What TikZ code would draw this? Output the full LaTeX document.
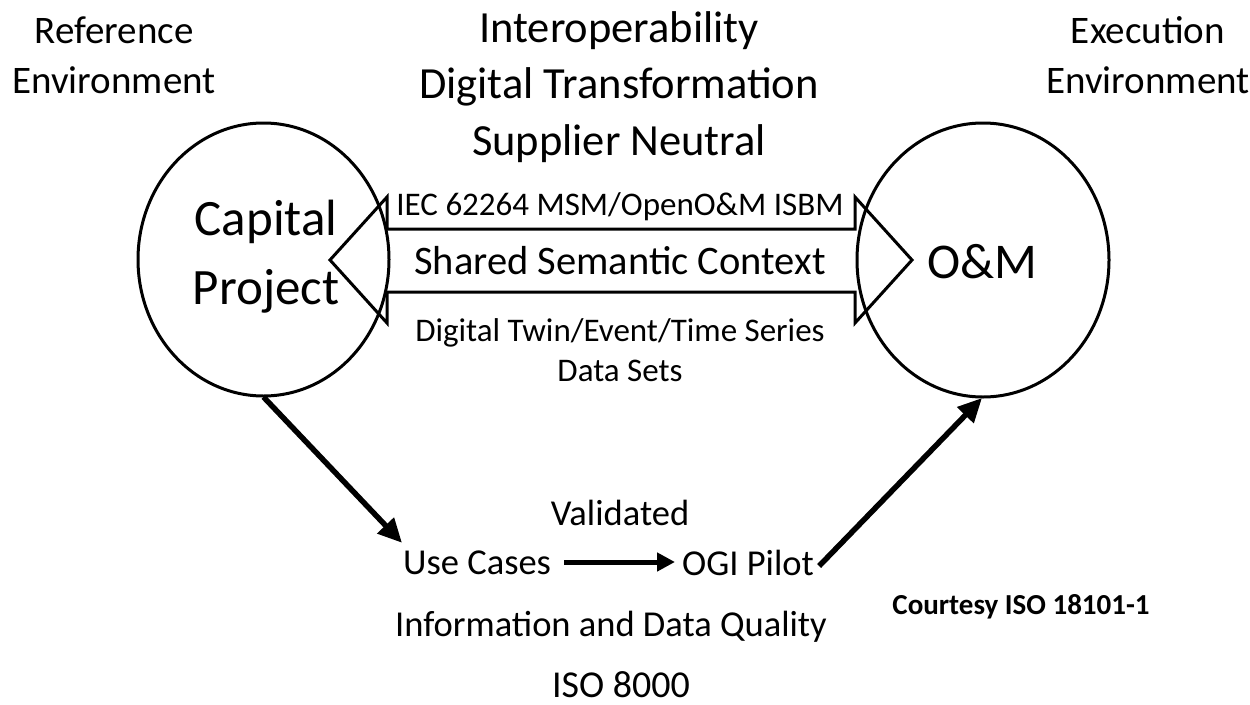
\documentclass[tikz,border=0pt]{standalone}
\usepackage{fontspec}
\setmainfont{Carlito}
\usetikzlibrary{arrows.meta}
\begin{document}
\begin{tikzpicture}[x=1pt,y=-1pt,
  lbl/.style={inner sep=0pt,anchor=center,align=center},
  plain/.style={inner sep=0pt},
  ring/.style={draw,line width=3pt},
  bigarrow/.style={-{Triangle[length=24pt,width=22pt]},line width=5.5pt},
  midarrow/.style={-{Triangle[length=18pt,width=18pt]},line width=5pt}]
\useasboundingbox (0,0) rectangle (1250,704);
% circles
\draw[ring] (263.5,259.5) ellipse [x radius=125.5,y radius=136.5];
\draw[ring] (983,260) ellipse [x radius=126,y radius=137];
\coordinate (capS) at (263.5,397);
\coordinate (omS) at (982,398);
\node[lbl,font=\fontsize{51}{69}\selectfont] (captxt) at (266,257) {Capital\\Project};
\node[lbl,font=\fontsize{50}{60}\selectfont] (omtxt) at (982,262) {O\&M};
% double arrow
\draw[line width=3pt,line join=miter] (330,260) -- (387,197) -- (387,229) -- (855,229) -- (855,197) -- (912,260) -- (855,323) -- (855,292) -- (387,292) -- (387,323) -- cycle;
\node[lbl,font=\fontsize{33}{40}\selectfont] (iec) at (620,207) {IEC 62264 MSM/OpenO\&M ISBM};
\node[lbl,font=\fontsize{40.5}{48}\selectfont] (ssc) at (620,261) {Shared Semantic Context};
\node[lbl,font=\fontsize{33}{40}\selectfont] (dt) at (620,350) {Digital Twin/Event/Time Series\\Data Sets};
% titles
\node[lbl,font=\fontsize{39}{50}\selectfont] (ref) at (114,55) {Reference\\Environment};
\node[lbl,font=\fontsize{39}{50}\selectfont] (exe) at (1148,55) {Execution\\Environment};
\node[lbl,font=\fontsize{44.5}{56.5}\selectfont] (top) at (619,87) {Interoperability\\Digital Transformation\\Supplier Neutral};
% bottom
\node[lbl,font=\fontsize{36.5}{44}\selectfont] (val) at (620,513) {Validated};
\node[lbl,font=\fontsize{36.5}{44}\selectfont,anchor=west] (use) at (403,563) {Use Cases};
\node[lbl,font=\fontsize{36.5}{44}\selectfont,anchor=west] (ogi) at (682,563) {OGI Pilot};
\node[lbl,font=\fontsize{36.5}{44}\selectfont] (iq) at (611,627) {Information and Data Quality};
\node[plain,font=\fontsize{38}{44}\selectfont,anchor=base] (iso) at (621,697) {ISO 8000};
\node[lbl,font=\bfseries\fontsize{29}{34}\selectfont] (court) at (1021,607) {Courtesy ISO 18101-1};
% connectors
\draw[bigarrow] (capS) -- ([xshift=-1pt,yshift=8pt]use.north west);
\draw[midarrow] ([xshift=13pt,yshift=1pt]use.east) -- ([xshift=-7pt,yshift=1pt]ogi.west);
\draw[bigarrow] ([xshift=5pt,yshift=-3pt]ogi.east) -- (omS);
\end{tikzpicture}
\end{document}
